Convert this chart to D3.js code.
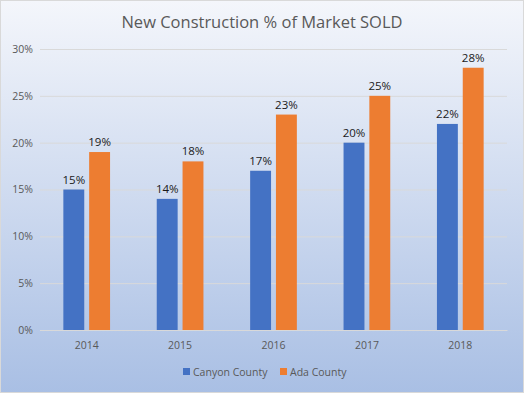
<!DOCTYPE html>
<html><head><meta charset="utf-8">
<script src="https://cdn.jsdelivr.net/npm/d3@7"></script>
<style>body{margin:0;padding:0;overflow:hidden}svg{display:block}</style>
</head><body>
<script>
const categories = ["2014","2015","2016","2017","2018"];
const seriesNames = ["Canyon County","Ada County"];
const canyon = [15,14,17,20,22];
const ada = [19,18,23,25,28];
const yTicks = [0,5,10,15,20,25,30];
const colors = ["#4472c4","#ed7d31"];

(function(){
const W=524,H=393;
const svg=d3.select("body").append("svg").attr("width",W).attr("height",H);
const defs=svg.append("defs");
const g=defs.append("linearGradient").attr("id","bg").attr("x1",0).attr("y1",0).attr("x2",0).attr("y2",1);
g.append("stop").attr("offset","0%").attr("stop-color","#f4f6fb");
g.append("stop").attr("offset","100%").attr("stop-color","#a9bfe4");
svg.append("rect").attr("x",0.5).attr("y",0.5).attr("width",W-1).attr("height",H-1)
  .attr("fill","url(#bg)").attr("stroke","#d9d9d9");

svg.append("text").attr("x",262).attr("y",28).attr("text-anchor","middle")
  .attr("font-family","Open Sans, sans-serif").attr("font-size",16.5).attr("fill","#595959")
  .text("New Construction % of Market SOLD");

const pl=40,pr=507,pt=49,pb=330;
const y=d3.scaleLinear().domain([0,30]).range([pb,pt]);
const x0=d3.scaleBand().domain(categories).range([pl,pr]).paddingInner(0.5).paddingOuter(0.25);
const x1=d3.scaleBand().domain(seriesNames).range([0,x0.bandwidth()]).paddingInner(0.19);

const yAxis=svg.append("g").attr("transform",`translate(${pl},0)`)
  .call(d3.axisLeft(y).tickValues(yTicks).tickSize(-(pr-pl)).tickFormat(d=>d+"%"));
yAxis.select(".domain").remove();
yAxis.selectAll(".tick line").attr("stroke","#d9d9d9").attr("stroke-width",1);
yAxis.selectAll(".tick text").attr("x",-7).attr("fill","#595959")
  .attr("font-family","Open Sans, sans-serif").attr("font-size",10.5);

const xAxis=svg.append("g").attr("transform",`translate(0,${pb})`)
  .call(d3.axisBottom(x0).tickSize(0));
xAxis.select(".domain").attr("stroke","#d9d9d9");
xAxis.selectAll(".tick text").attr("dy",0).attr("y",19).attr("fill","#595959")
  .attr("font-family","Open Sans, sans-serif").attr("font-size",10.5);

const data=categories.map((c,i)=>({cat:c,vals:[{s:seriesNames[0],v:canyon[i],k:0},{s:seriesNames[1],v:ada[i],k:1}]}));
const grp=svg.selectAll(".grp").data(data).enter().append("g")
  .attr("transform",d=>`translate(${x0(d.cat)},0)`);
grp.selectAll("rect").data(d=>d.vals).enter().append("rect")
  .attr("x",d=>x1(d.s)).attr("width",x1.bandwidth())
  .attr("y",d=>y(d.v)).attr("height",d=>pb-y(d.v)).attr("fill",d=>colors[d.k]);
grp.selectAll("text").data(d=>d.vals).enter().append("text")
  .attr("x",d=>x1(d.s)+x1.bandwidth()/2).attr("y",d=>y(d.v)-6)
  .attr("text-anchor","middle").attr("font-family","Open Sans, sans-serif")
  .attr("font-size",11.5).attr("fill","#1a1a1a").text(d=>d.v+"%");

const leg=svg.append("g");
const legX=[183,280];
seriesNames.forEach((s,i)=>{
  leg.append("rect").attr("x",legX[i]).attr("y",368).attr("width",7).attr("height",7).attr("fill",colors[i]);
  leg.append("text").attr("x",legX[i]+10).attr("y",375.5).attr("font-family","Open Sans, sans-serif")
    .attr("font-size",10.5).attr("fill","#595959").text(s);
});
})();
</script>
</body></html>
